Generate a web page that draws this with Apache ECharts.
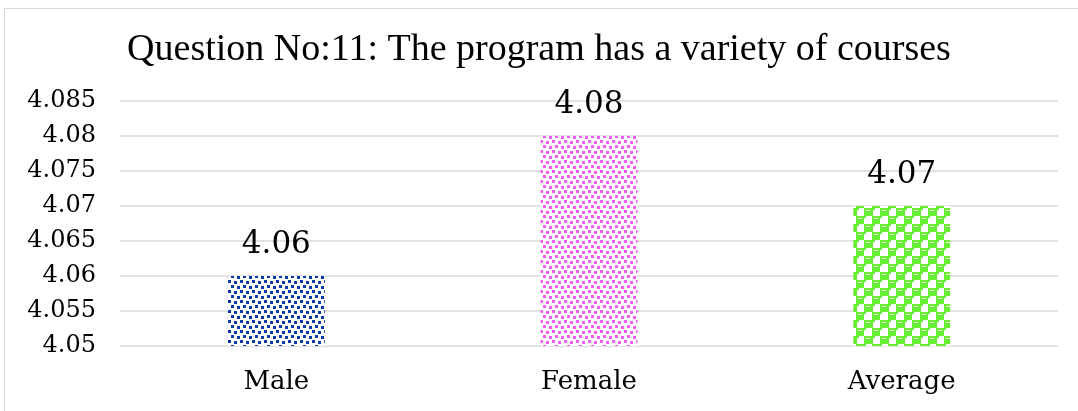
<!DOCTYPE html>
<html>
<head>
<meta charset="utf-8">
<script src="https://cdn.jsdelivr.net/npm/echarts@6/dist/echarts.min.js"></script>
<style>
  html, body { margin: 0; padding: 0; background: #fff; }
  #frame { position: absolute; left: 4px; top: 8px; width: 1200px; height: 600px;
           border-left: 1px solid #d9d9d9; border-top: 1px solid #d9d9d9; }
  #chart { position: absolute; left: 0; top: 0; width: 1078px; height: 411px; }
</style>
</head>
<body>
<div id="frame"></div>
<div id="chart"></div>
<script>
'use strict';

var categories = ['Male', 'Female', 'Average'];
var scores = [4.06, 4.08, 4.07];
var yTicks = ['4.05', '4.055', '4.06', '4.065', '4.07', '4.075', '4.08', '4.085'];

// little tiles for the dotted fills
function dotTile (color, w, h, dots, s) {
   var c = document.createElement('canvas');
   c.width = w;
   c.height = h;
   var ctx = c.getContext('2d');
   ctx.fillStyle = '#fff';
   ctx.fillRect(0, 0, w, h);
   ctx.fillStyle = color;
   dots.forEach(function (d) {
      ctx.fillRect(d[0], d[1], s, s);
   });
   return { image: c, repeat: 'repeat' };
}

function checkTile (color) {
   var c = document.createElement('canvas');
   c.width = 16;
   c.height = 16;
   var ctx = c.getContext('2d');
   ctx.fillStyle = '#fff';
   ctx.fillRect(0, 0, 16, 16);
   ctx.fillStyle = color;
   ctx.fillRect(0, 0, 9, 8);
   ctx.fillRect(8, 8, 9, 8);
   ctx.fillRect(9, 0, 2, 2);
   ctx.fillRect(0, 8, 2, 2);
   ctx.fillStyle = '#fff';
   ctx.fillRect(2, 2, 4, 1);
   ctx.fillRect(10, 10, 4, 1);
   return { image: c, repeat: 'repeat' };
}

var dotSpots = [[0, 0], [6, 1], [3, 5], [9, 6]];
var fills = [
   dotTile('#0a3aa8', 12, 10, dotSpots, 3),
   dotTile('#f25cf2', 12, 10, dotSpots, 3),
   checkTile('#66f030')
];

var myChart = echarts.init(document.getElementById('chart'));

var option = {
   animation: false,
   title: {
      text: 'Question No:11: The program has a variety of courses',
      left: 'center',
      top: 26,
      textStyle: {
         fontFamily: 'Liberation Serif',
         fontSize: 38,
         fontWeight: 'normal',
         color: '#000'
      }
   },
   grid: { left: 120, right: 20, top: 101, bottom: 65 },
   xAxis: {
      type: 'category',
      data: categories,
      axisLine: { show: false },
      axisTick: { show: false },
      axisLabel: {
         fontFamily: 'DejaVu Serif',
         fontSize: 26,
         color: '#000',
         margin: 23
      }
   },
   yAxis: {
      type: 'value',
      min: 4.05,
      max: 4.085,
      interval: 0.005,
      axisLine: { show: false },
      axisTick: { show: false },
      splitLine: { lineStyle: { color: '#d9d9d9', width: 1.5 } },
      axisLabel: {
         fontFamily: 'DejaVu Serif',
         fontSize: 24,
         color: '#000',
         margin: 24,
         formatter: function (v) {
            var i = Math.round((v - 4.05) / 0.005);
            return yTicks[i];
         }
      }
   },
   series: [{
      type: 'bar',
      barWidth: '31%',
      data: scores.map(function (v, i) {
         return { value: v, itemStyle: { color: fills[i] } };
      }),
      label: {
         show: true,
         position: 'top',
         distance: 16,
         fontFamily: 'DejaVu Serif',
         fontSize: 31,
         color: '#000'
      }
   }]
};

myChart.setOption(option);
</script>
</body>
</html>
